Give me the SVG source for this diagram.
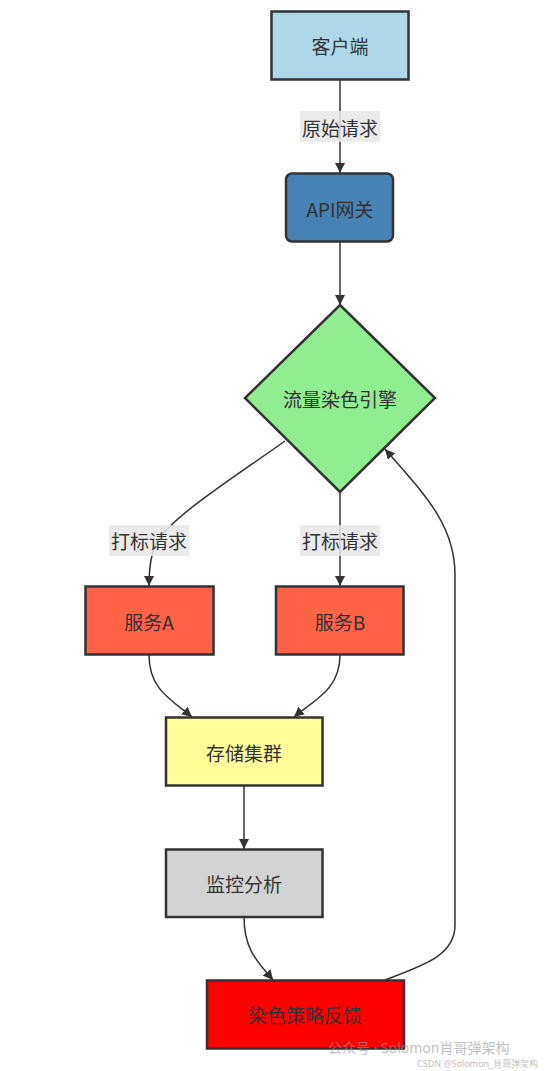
<svg xmlns="http://www.w3.org/2000/svg" width="547" height="1071" viewBox="0 0 547 1071">
<style>
.node{stroke:#333;stroke-width:2.5}
.lbl{font-family:"Microsoft YaHei","Noto Sans CJK SC","Noto Sans",sans-serif;font-size:19px;fill:#333;text-anchor:middle;dominant-baseline:central}
.edge{fill:none;stroke:#333;stroke-width:1.5}
.ebg{fill:#e8e8e8;opacity:0.85}
.wm{font-family:"Noto Sans","Noto Sans CJK SC",sans-serif;fill:#999;opacity:0.6}
</style>
<defs>
<marker id="arr" viewBox="0 0 10 10" refX="10" refY="5" markerWidth="10" markerHeight="10" markerUnits="userSpaceOnUse" orient="auto">
<path d="M0,0 L10,5 L0,10 z" fill="#333"/>
</marker>
</defs>
<rect width="547" height="1071" fill="#fff"/>
<g id="connectors">
<path class="edge" d="M340,79 L340,173" marker-end="url(#arr)"/>
<path class="edge" d="M340,241 L340,305" marker-end="url(#arr)"/>
<path class="edge" d="M285,441 C230,480 175,515 158,540 Q149,555 149,586" marker-end="url(#arr)"/>
<path class="edge" d="M340,492 L340,586" marker-end="url(#arr)"/>
<path class="edge" d="M149,655 C149,690 172,700 192,717" marker-end="url(#arr)"/>
<path class="edge" d="M340,655 C340,690 314,700 294,717" marker-end="url(#arr)"/>
<path class="edge" d="M244,786 L244,849" marker-end="url(#arr)"/>
<path class="edge" d="M244,917 C244,950 258,962 273,980" marker-end="url(#arr)"/>
<path class="edge" d="M385,980 C425,965 455,955 455,925 L455,575 C455,525 425,495 385,449" marker-end="url(#arr)"/>
<g id="edge-labels">
<rect class="ebg" x="300" y="111" width="80" height="31"/>
<text class="lbl" x="340" y="127">原始请求</text>
<rect class="ebg" x="109" y="525" width="80" height="31"/>
<text class="lbl" x="149" y="540">打标请求</text>
<rect class="ebg" x="300" y="525" width="80" height="31"/>
<text class="lbl" x="340" y="540">打标请求</text>
</g>
</g>
<g id="client">
<rect class="node" x="271.5" y="11.5" width="137" height="68" fill="#ADD8E6"/>
<text class="lbl" x="340" y="45">客户端</text>
</g>
<g id="gateway">
<rect class="node" x="286" y="173.5" width="107" height="68" rx="6" fill="#4682B4"/>
<text class="lbl" x="340" y="208">API网关</text>
</g>
<g id="engine">
<polygon class="node" points="340,305 435,398 340,492 245,398" fill="#90EE90"/>
<text class="lbl" x="340" y="398">流量染色引擎</text>
</g>
<g id="serviceA">
<rect class="node" x="85.5" y="586.5" width="128" height="68" fill="#FF6347"/>
<text class="lbl" x="149" y="621">服务A</text>
</g>
<g id="serviceB">
<rect class="node" x="276" y="586.5" width="127.5" height="68" fill="#FF6347"/>
<text class="lbl" x="340" y="621">服务B</text>
</g>
<g id="storage">
<rect class="node" x="166" y="717.5" width="156.5" height="68" fill="#FFFF99"/>
<text class="lbl" x="244" y="752">存储集群</text>
</g>
<g id="monitor">
<rect class="node" x="166" y="849.5" width="156.5" height="67.5" fill="#D3D3D3"/>
<text class="lbl" x="244" y="883">监控分析</text>
</g>
<g id="feedback">
<rect class="node" x="207" y="980.5" width="197" height="68" fill="#FF0000"/>
<text class="lbl" x="305" y="1014">染色策略反馈</text>
</g>
<g id="watermark">
<text class="wm" x="328" y="1053" font-size="14">公众号 · Solomon肖哥弹架构</text>
<text class="wm" x="417" y="1067" font-size="9">CSDN @Solomon_肖哥弹架构</text>
</g>
</svg>
